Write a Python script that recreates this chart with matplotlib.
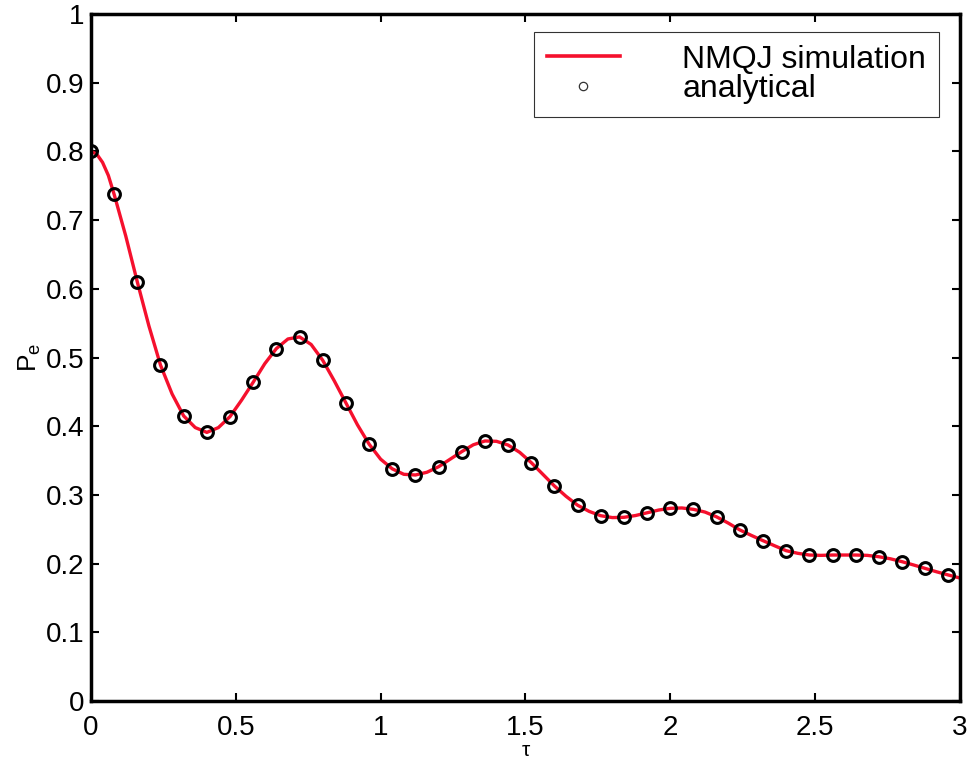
import matplotlib
matplotlib.use("Agg")
import matplotlib.pyplot as plt
from matplotlib.lines import Line2D

# analytical points (markers)
tau_analytical = [0.00, 0.08, 0.16, 0.24, 0.32, 0.40, 0.48, 0.56, 0.64, 0.72,
                  0.80, 0.88, 0.96, 1.04, 1.12, 1.20, 1.28, 1.36, 1.44, 1.52,
                  1.60, 1.68, 1.76, 1.84, 1.92, 2.00, 2.08, 2.16, 2.24, 2.32,
                  2.40, 2.48, 2.56, 2.64, 2.72, 2.80, 2.88, 2.96]
pe_analytical = [0.800, 0.7375, 0.610, 0.489, 0.415, 0.391, 0.414, 0.464, 0.513, 0.530,
                 0.496, 0.434, 0.374, 0.338, 0.329, 0.341, 0.363, 0.3785, 0.3726, 0.347,
                 0.313, 0.285, 0.2697, 0.2674, 0.274, 0.2805, 0.279, 0.268, 0.249, 0.2334,
                 0.2188, 0.2125, 0.2125, 0.2125, 0.210, 0.2028, 0.193, 0.1834]

# NMQJ simulation curve
tau_sim = [0.00, 0.02, 0.04, 0.06, 0.08, 0.12, 0.16, 0.20, 0.24, 0.28, 0.32, 0.36,
           0.40, 0.44, 0.48, 0.52, 0.56, 0.60, 0.64, 0.68, 0.72, 0.76,
           0.80, 0.84, 0.88, 0.92, 0.96, 1.00, 1.04, 1.08, 1.12, 1.16,
           1.20, 1.24, 1.28, 1.32, 1.36, 1.40, 1.44, 1.48, 1.52, 1.56,
           1.60, 1.64, 1.68, 1.72, 1.76, 1.80, 1.84, 1.88, 1.92, 1.96,
           2.00, 2.04, 2.08, 2.12, 2.16, 2.20, 2.24, 2.28, 2.32, 2.36,
           2.40, 2.44, 2.48, 2.52, 2.56, 2.60, 2.64, 2.68, 2.72, 2.76,
           2.80, 2.84, 2.88, 2.92, 2.96, 3.00]
pe_sim = [0.800, 0.796, 0.784, 0.765, 0.7375, 0.677, 0.610, 0.546, 0.489, 0.447, 0.415, 0.398,
          0.391, 0.398, 0.414, 0.438, 0.464, 0.491, 0.513, 0.527, 0.530, 0.519,
          0.496, 0.466, 0.434, 0.402, 0.374, 0.352, 0.338, 0.330, 0.329, 0.333,
          0.341, 0.352, 0.363, 0.373, 0.3785, 0.378, 0.3726, 0.362, 0.347, 0.330,
          0.313, 0.298, 0.285, 0.276, 0.2697, 0.267, 0.2674, 0.270, 0.274, 0.278,
          0.2805, 0.281, 0.279, 0.275, 0.268, 0.259, 0.249, 0.241, 0.2334, 0.226,
          0.2188, 0.215, 0.2125, 0.212, 0.2125, 0.2125, 0.2125, 0.212, 0.210, 0.207,
          0.2028, 0.198, 0.193, 0.188, 0.1834, 0.179]

x_ticks = [0, 0.5, 1, 1.5, 2, 2.5, 3]
x_ticklabels = ["0", "0.5", "1", "1.5", "2", "2.5", "3"]
y_ticks = [0, 0.1, 0.2, 0.3, 0.4, 0.5, 0.6, 0.7, 0.8, 0.9, 1]
y_ticklabels = ["0", "0.1", "0.2", "0.3", "0.4", "0.5", "0.6", "0.7", "0.8", "0.9", "1"]

plt.rcParams['font.family'] = ['Liberation Sans', 'DejaVu Sans']
plt.rcParams['mathtext.fontset'] = 'custom'
plt.rcParams['mathtext.rm'] = 'Liberation Sans'
plt.rcParams['mathtext.it'] = 'Liberation Sans'

RED = '#f5102d'

fig = plt.figure(figsize=(9.74, 7.74), dpi=100)
ax = fig.add_axes([0.0934, 0.0943, 0.8922, 0.8876])

ax.plot(tau_sim, pe_sim, color=RED, lw=2.4, zorder=2, solid_capstyle='butt')
ax.plot(tau_analytical, pe_analytical, linestyle='none', marker='o', ms=8.5,
        mfc='none', mec='black', mew=2.2, zorder=3)

ax.set_xlim(0, 3)
ax.set_ylim(0, 1)
ax.set_xticks(x_ticks)
ax.set_xticklabels(x_ticklabels)
ax.set_yticks(y_ticks)
ax.set_yticklabels(y_ticklabels)
ax.tick_params(direction='in', length=6, width=1.5, top=True, right=True,
               labelsize=20, colors='black')
ax.tick_params(axis='x', pad=10)
ax.tick_params(axis='y', pad=5)
for s in ax.spines.values():
    s.set_linewidth(2.5)
    s.set_color('black')

ax.set_xlabel('τ', fontsize=15, labelpad=0)
ax.set_ylabel(r'P$_\mathregular{e}$', fontsize=19, labelpad=2)

handles = [Line2D([], [], color=RED, lw=2.6),
           Line2D([], [], linestyle='none', marker='o', ms=6, mfc='none',
                  mec='#333333', mew=0.9)]
leg = ax.legend(handles, ['NMQJ simulation', 'analytical'],
                loc='upper right', bbox_to_anchor=(0.976, 0.974),
                fontsize=23, frameon=True, fancybox=False, handlelength=2.3,
                handletextpad=1.95, labelspacing=-0.02, borderpad=0.4,
                borderaxespad=0)
leg.get_frame().set_edgecolor('black')
leg.get_frame().set_linewidth(0.8)

fig.savefig('out.png', dpi=100)
